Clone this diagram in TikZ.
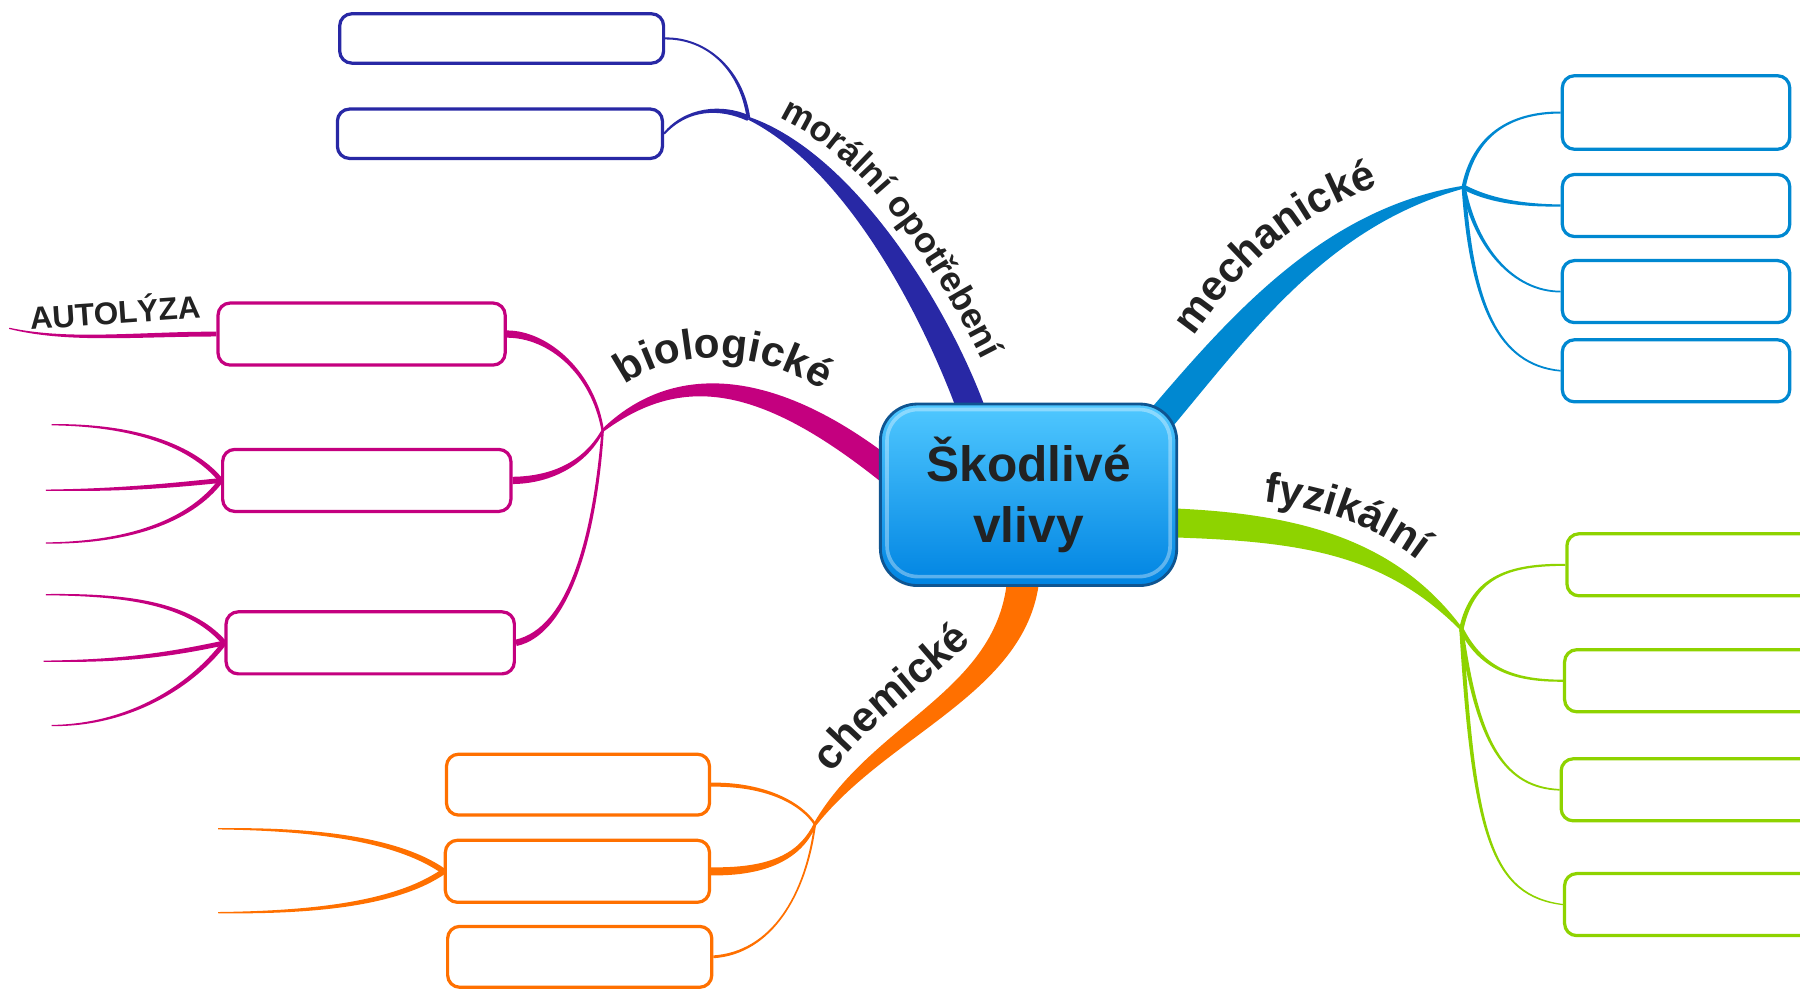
\documentclass[tikz,border=0pt]{standalone}
\usepackage{fontspec}
\setmainfont{Liberation Sans}
\usepackage{xcolor}
\usetikzlibrary{calc, backgrounds, decorations.text}
\definecolor{hubtop}{RGB}{80, 200, 255}
\definecolor{hubbot}{RGB}{0, 132, 226}
\definecolor{hubedge}{RGB}{15, 85, 145}
\definecolor{morblue}{RGB}{40, 40, 165}
\definecolor{bioviolet}{RGB}{196, 0, 127}
\definecolor{chemorange}{RGB}{255, 112, 0}
\definecolor{mechblue}{RGB}{0, 136, 209}
\definecolor{fyzgreen}{RGB}{142, 211, 0}
\definecolor{labelgrey}{RGB}{34, 34, 34}

% tapered branch: colour, start, control 1, control 2, end, start half-width, end half-width
\newcommand{\branch}[7]{%
  \fill[#1] ($(#2)!#6!90:(#3)$)
    .. controls ($(#3)!#6!-90:(#2)$) and ($(#4)!#6*0.65!90:(#5)$) .. ($(#5)!#7!-90:(#4)$)
    -- ($(#5)!#7!90:(#4)$)
    .. controls ($(#4)!#6*0.65!-90:(#5)$) and ($(#3)!#6!90:(#2)$) .. ($(#2)!#6!-90:(#3)$)
    -- cycle;}

\begin{document}
\begin{tikzpicture}[x=0.01cm, y=-0.01cm,
    leaf/.style={draw=#1, fill=white, line width=0.8pt, rounded corners=3pt,
      inner sep=0pt, minimum height=0.54cm},
    branchlabel/.style 2 args={decorate, decoration={text along path,
      text color=labelgrey, text align=center,
      text={|\bfseries\fontsize{#1}{#1}\selectfont|#2}}}]
  \path[use as bounding box, clip] (0,0) rectangle (1568,863);

  % ── Central topic ─────────────────────────────────────────────────────────
  \node[draw=hubedge, line width=0.7pt, rounded corners=0.32cm,
        top color=hubtop, bottom color=hubbot,
        minimum width=2.58cm, minimum height=1.58cm, align=center,
        text=labelgrey, font=\bfseries\fontsize{12.3}{15}\selectfont]
    (hub) at (896,431) {Škodlivé\\vlivy};
  \draw[white, opacity=0.35, line width=0.9pt, rounded corners=0.27cm]
    ($(hub.south west)+(7,-9)$) rectangle ($(hub.north east)+(-7,6)$);

  % ── Empty boxes ───────────────────────────────────────────────────────────
  \node[leaf=morblue, minimum width=2.82cm, minimum height=0.43cm] (m1) at (437,33.5) {};
  \node[leaf=morblue, minimum width=2.83cm, minimum height=0.43cm] (m2) at (435.5,116.5) {};

  \node[leaf=bioviolet, minimum width=2.50cm] (b1) at (315,291) {};
  \node[leaf=bioviolet, minimum width=2.51cm] (b2) at (319.5,418.5) {};
  \node[leaf=bioviolet, minimum width=2.51cm] (b3) at (322.5,560) {};

  \node[leaf=chemorange, minimum width=2.29cm, minimum height=0.53cm] (o1) at (503.5,683.5) {};
  \node[leaf=chemorange, minimum width=2.30cm] (o2) at (503,759) {};
  \node[leaf=chemorange, minimum width=2.30cm, minimum height=0.53cm] (o3) at (505,833.5) {};

  \node[leaf=mechblue, minimum width=1.98cm, minimum height=0.64cm] (c1) at (1460,98) {};
  \node[leaf=mechblue, minimum width=1.98cm] (c2) at (1460,179) {};
  \node[leaf=mechblue, minimum width=1.98cm] (c3) at (1460,254) {};
  \node[leaf=mechblue, minimum width=1.98cm] (c4) at (1460,323) {};

  \node[leaf=fyzgreen, minimum width=2.25cm] (g1) at (1477.5,492) {};
  \node[leaf=fyzgreen, minimum width=2.25cm] (g2) at (1475.5,593) {};
  \node[leaf=fyzgreen, minimum width=2.25cm] (g3) at (1472.5,688) {};
  \node[leaf=fyzgreen, minimum width=2.25cm] (g4) at (1475.5,788) {};

  \node[rotate=4, text=labelgrey, font=\bfseries\fontsize{7.8}{9}\selectfont]
    (autolyza) at (100,270) {AUTOLÝZA};

  % ── Roots, junctions and loose ends ───────────────────────────────────────
  \coordinate (morS)  at (848,362);
  \coordinate (mechS) at (1000,378);
  \coordinate (fyzS)  at (1005,455);
  \coordinate (chemS) at (892,490);
  \coordinate (bioS)  at (785,420);

  \coordinate (morJ)  at (652,103);
  \coordinate (mechJ) at (1275,163);
  \coordinate (fyzJ)  at (1273,548);
  \coordinate (chemJ) at (710,718);
  \coordinate (bioJ)  at (525,375);

  \coordinate (autoE) at (8,286);
  \coordinate (bl1) at (45,370);
  \coordinate (bl2) at (40,427);
  \coordinate (bl3) at (40,473);
  \coordinate (bl4) at (40,518);
  \coordinate (bl5) at (38,576);
  \coordinate (bl6) at (45,632);
  \coordinate (ol1) at (190,722);
  \coordinate (ol2) at (190,795);

  \begin{scope}[on background layer]
    % ── Main branches ───────────────────────────────────────────────────────
    \branch{morblue}{morS}{815,270}{740,140}{morJ}{3.4pt}{0.35pt}
    \branch{mechblue}{mechS}{1075,290}{1150,190}{mechJ}{3.5pt}{0.35pt}
    \branch{fyzgreen}{fyzS}{1130,458}{1210,475}{fyzJ}{3.6pt}{0.35pt}
    \branch{chemorange}{chemS}{893,600}{770,630}{chemJ}{4pt}{0.4pt}
    \branch{bioviolet}{bioS}{670,325}{590,320}{bioJ}{3.1pt}{0.35pt}

    % ── Sub-branches ────────────────────────────────────────────────────────
    \branch{morblue}{morJ}{646,60}{615,33}{m1.east}{0.45pt}{0.25pt}
    \branch{morblue}{morJ}{628,92}{598,94}{m2.east}{0.7pt}{0.25pt}

    \branch{mechblue}{mechJ}{1284,118}{1315,98}{c1.west}{0.5pt}{0.25pt}
    \branch{mechblue}{mechJ}{1300,176}{1330,179}{c2.west}{0.6pt}{0.25pt}
    \branch{mechblue}{mechJ}{1285,215}{1318,254}{c3.west}{0.5pt}{0.2pt}
    \branch{mechblue}{mechJ}{1282,265}{1305,318}{c4.west}{0.5pt}{0.2pt}

    \branch{fyzgreen}{fyzJ}{1283,500}{1318,492}{g1.west}{0.55pt}{0.25pt}
    \branch{fyzgreen}{fyzJ}{1292,585}{1322,593}{g2.west}{0.55pt}{0.25pt}
    \branch{fyzgreen}{fyzJ}{1287,650}{1312,686}{g3.west}{0.5pt}{0.2pt}
    \branch{fyzgreen}{fyzJ}{1284,730}{1300,780}{g4.west}{0.5pt}{0.15pt}

    \branch{bioviolet}{b1.east}{478,291}{517,325}{bioJ}{0.9pt}{0.3pt}
    \branch{bioviolet}{b2.east}{485,418}{512,400}{bioJ}{0.9pt}{0.3pt}
    \branch{bioviolet}{b3.east}{495,550}{518,470}{bioJ}{0.8pt}{0.3pt}

    \branch{chemorange}{o1.east}{668,683}{698,700}{chemJ}{0.5pt}{0.3pt}
    \branch{chemorange}{o2.east}{678,760}{700,740}{chemJ}{1pt}{0.35pt}
    \branch{chemorange}{o3.east}{672,830}{702,780}{chemJ}{0.35pt}{0.25pt}

    % ── Loose twigs ─────────────────────────────────────────────────────────
    \branch{bioviolet}{b1.west}{120,291}{60,298}{autoE}{0.6pt}{0.15pt}
    \branch{bioviolet}{b2.west}{165,385}{110,370}{bl1}{0.6pt}{0.15pt}
    \branch{bioviolet}{b2.west}{140,424}{100,427}{bl2}{0.6pt}{0.15pt}
    \branch{bioviolet}{b2.west}{165,455}{110,473}{bl3}{0.6pt}{0.15pt}
    \branch{bioviolet}{b3.west}{165,525}{110,518}{bl4}{0.6pt}{0.15pt}
    \branch{bioviolet}{b3.west}{140,572}{100,576}{bl5}{0.6pt}{0.15pt}
    \branch{bioviolet}{b3.west}{165,600}{110,632}{bl6}{0.6pt}{0.15pt}
    \branch{chemorange}{o2.west}{345,730}{270,722}{ol1}{0.7pt}{0.15pt}
    \branch{chemorange}{o2.west}{345,788}{270,795}{ol2}{0.7pt}{0.15pt}
  \end{scope}

  % ── Branch labels ─────────────────────────────────────────────────────────
  \path[branchlabel={8.8}{morální opotřebení}]
    (676,102) .. controls (747,133) and (802,208) .. (857,316);
  \path[branchlabel={10.5}{mechanické}]
    (1032,304) .. controls (1082,230) and (1132,184) .. (1214,158);
  \path[branchlabel={10.5}{fyzikální}]
    (1093,436) .. controls (1150,442) and (1199,458) .. (1242,493);
  \path[branchlabel={10.5}{chemické}]
    (718,682) .. controls (760,624) and (810,596) .. (854,551);
  \path[branchlabel={10.5}{biologické}]
    (536,343) .. controls (578,301) and (665,301) .. (726,347);
\end{tikzpicture}
\end{document}
